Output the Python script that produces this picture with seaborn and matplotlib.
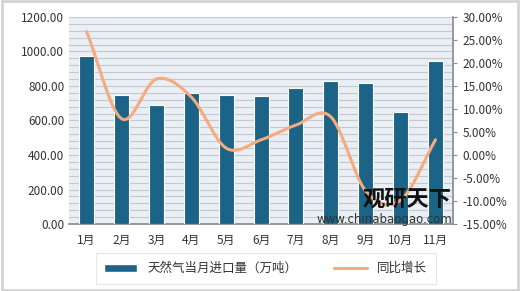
import numpy as np
import pandas as pd
import matplotlib
matplotlib.use("Agg")
import matplotlib.pyplot as plt
import seaborn as sns
from matplotlib.patches import Rectangle
from matplotlib.lines import Line2D
from matplotlib.ticker import FuncFormatter, MultipleLocator

# データ
months = ["1月", "2月", "3月", "4月", "5月", "6月", "7月", "8月", "9月", "10月", "11月"]
imports = [974, 748, 690, 759, 748, 742, 788, 829, 817, 649, 945]
growth = [26.8, 7.9, 16.5, 12.6, 1.5, 3.3, 6.5, 8.3, -7.8, -9.8, 3.3]

bar_color = "#1b6387"
line_color = "#f5ab7e"

sns.set_theme(style="white")
plt.rcParams["font.family"] = ["Noto Sans CJK SC", "DejaVu Sans"]


def smooth(xs, ys, n=30):
    # Catmull-Rom で滑らかな線にする
    xs = np.asarray(xs, float)
    ys = np.asarray(ys, float)
    px = np.concatenate([[2 * xs[0] - xs[1]], xs, [2 * xs[-1] - xs[-2]]])
    py = np.concatenate([[2 * ys[0] - ys[1]], ys, [2 * ys[-1] - ys[-2]]])
    ox, oy = [], []
    t = np.linspace(0, 1, n)
    for i in range(1, len(px) - 2):
        for p, o in ((px, ox), (py, oy)):
            p0, p1, p2, p3 = p[i - 1], p[i], p[i + 1], p[i + 2]
            o.extend(0.5 * ((2 * p1) + (-p0 + p2) * t
                            + (2 * p0 - 5 * p1 + 4 * p2 - p3) * t ** 2
                            + (-p0 + 3 * p1 - 3 * p2 + p3) * t ** 3))
    return np.array(ox), np.array(oy)


df = pd.DataFrame({"month": months, "imports": imports, "growth": growth})

fig = plt.figure(figsize=(5.2, 2.91), dpi=100)
fig.patch.set_facecolor("white")
fig.patches.append(Rectangle((0.003, 0.004), 0.993, 0.991, transform=fig.transFigure,
                             fill=False, edgecolor="#d4d4d4", linewidth=2))

ax = fig.add_axes([0.133, 0.230, 0.738, 0.712])
ax.set_facecolor("#e9eff4")
sns.barplot(data=df, x="month", y="imports", color=bar_color, width=0.43,
            edgecolor="white", linewidth=0.8, saturation=1, ax=ax, zorder=3)
ax.set_ylim(0, 1200)
ax.set_xlim(-0.5, len(months) - 0.5)
ax.yaxis.set_major_locator(MultipleLocator(200))
ax.yaxis.set_minor_locator(MultipleLocator(40))
ax.yaxis.set_major_formatter(FuncFormatter(lambda v, p: f"{v:.2f}"))
ax.grid(axis="y", which="both", color="#c4c9ce", linewidth=0.8, zorder=0)
ax.set_axisbelow(True)
ax.set_xlabel("")
ax.set_ylabel("")
ax.tick_params(axis="both", which="both", length=0, labelsize=8.5, colors="#333333")
ax.tick_params(axis="x", pad=7)
for s in ["top", "left", "right"]:
    ax.spines[s].set_visible(False)
ax.spines["bottom"].set_color("#8c8c8c")

ax2 = ax.twinx()
sx, sy = smooth(range(len(months)), df["growth"])
ax2.plot(sx, sy, color=line_color, linewidth=2.2, solid_capstyle="round", zorder=5)
ax2.set_ylim(-15, 30)
ax2.yaxis.set_major_locator(MultipleLocator(5))
ax2.yaxis.set_major_formatter(FuncFormatter(lambda v, p: f"{v:.2f}%"))
ax2.tick_params(axis="y", length=3, width=0.8, color="#8c8c8c", labelsize=8.5,
                colors="#333333", pad=4)
ax2.tick_params(axis="y", which="both", color="#8c8c8c")
for s in ["top", "left", "bottom"]:
    ax2.spines[s].set_visible(False)
ax2.spines["right"].set_color("#8c8c8c")
ax2.grid(False)

# 透かし
fig.text(0.782, 0.316, "观研天下", fontsize=16, fontweight="bold", color="#111111",
         ha="center", va="center", zorder=10)
fig.text(0.740, 0.247, "www.chinabaogao.com", fontsize=8.5, color="#333333",
         ha="center", va="center", zorder=10, family=["DejaVu Sans"])

handles = [Rectangle((0, 0), 1, 1, facecolor=bar_color),
           Line2D([0], [0], color=line_color, linewidth=2.2)]
leg = fig.legend(handles, ["天然气当月进口量（万吨）", "同比增长"], loc="center",
                 bbox_to_anchor=(0.511, 0.077), ncol=2, fontsize=9, frameon=True,
                 handlelength=2.6, handleheight=0.6, columnspacing=3.0,
                 borderpad=0.7, borderaxespad=0, fancybox=False)
leg.get_frame().set_edgecolor("#e0e0e0")
leg.get_frame().set_linewidth(0.8)
for t in leg.get_texts():
    t.set_color("#333333")

fig.savefig("out.png", dpi=100)
